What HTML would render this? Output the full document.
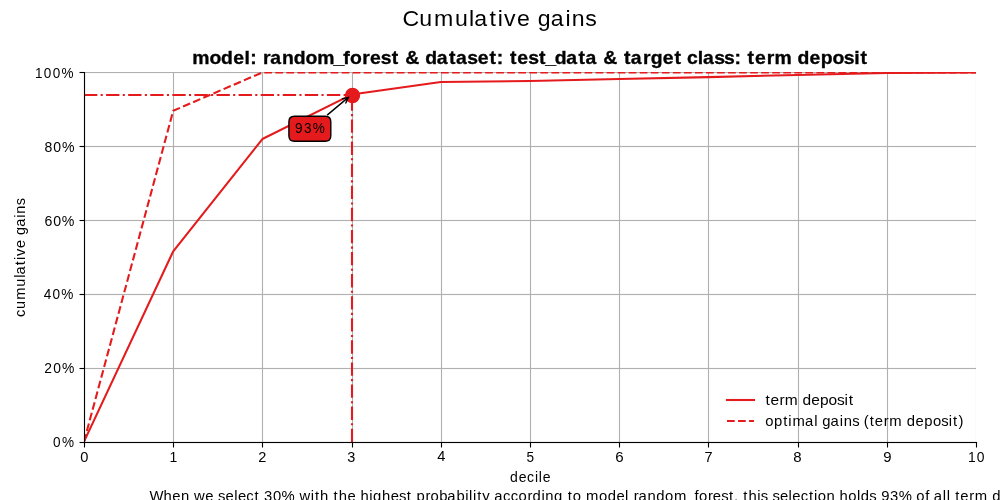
<!DOCTYPE html>
<html><head><meta charset="utf-8"><title>Cumulative gains</title>
<style>
html,body{margin:0;padding:0;background:#fff;}
body{width:1000px;height:500px;overflow:hidden;font-family:"Liberation Sans",sans-serif;}
svg{display:block;}
text{font-family:"Liberation Sans",sans-serif;font-kerning:none;}
#txt{opacity:0.999;}
</style></head><body>
<svg width="1000" height="500" viewBox="0 0 1000 500">
<rect width="1000" height="500" fill="#fff"/>
<defs><clipPath id="ax"><rect x="84" y="72" width="892" height="370"/></clipPath></defs>
<g clip-path="url(#ax)" stroke="#b0b0b0" stroke-width="1.1111"><line x1="84.5" y1="60" x2="84.5" y2="450"/><line x1="173.5" y1="60" x2="173.5" y2="450"/><line x1="262.5" y1="60" x2="262.5" y2="450"/><line x1="352.5" y1="60" x2="352.5" y2="450"/><line x1="441.5" y1="60" x2="441.5" y2="450"/><line x1="530.5" y1="60" x2="530.5" y2="450"/><line x1="619.5" y1="60" x2="619.5" y2="450"/><line x1="708.5" y1="60" x2="708.5" y2="450"/><line x1="798.5" y1="60" x2="798.5" y2="450"/><line x1="887.5" y1="60" x2="887.5" y2="450"/><line x1="976.5" y1="60" x2="976.5" y2="450"/><line x1="70" y1="72.5" x2="990" y2="72.5"/><line x1="70" y1="146.5" x2="990" y2="146.5"/><line x1="70" y1="220.5" x2="990" y2="220.5"/><line x1="70" y1="294.5" x2="990" y2="294.5"/><line x1="70" y1="368.5" x2="990" y2="368.5"/><line x1="70" y1="442.5" x2="990" y2="442.5"/></g>
<g fill="#b0b0b0" fill-opacity="0.063" shape-rendering="crispEdges"><rect x="85" y="73" width="891" height="1"/><rect x="85" y="145" width="891" height="1"/><rect x="85" y="147" width="891" height="1"/><rect x="85" y="219" width="891" height="1"/><rect x="85" y="221" width="891" height="1"/><rect x="85" y="293" width="891" height="1"/><rect x="85" y="295" width="891" height="1"/><rect x="85" y="367" width="891" height="1"/><rect x="85" y="369" width="891" height="1"/></g>
<g clip-path="url(#ax)" fill="none" stroke="#e41a1c" stroke-width="2.0833"><circle cx="352.5" cy="95.5" r="6.9444" fill="#e41a1c" stroke-width="1.3889"/><polyline points="84.000,441.600 173.200,251.351 262.400,139.041 351.600,94.589 440.800,81.962 530.000,81.039 619.200,79.009 708.400,77.163 797.600,74.947 886.800,73.065 976.000,72.400" stroke-linejoin="round" stroke-linecap="square"/><polyline points="84.000,441.600 173.200,110.797 262.400,72.400 351.600,72.400 440.800,72.400 530.000,72.400 619.200,72.400 708.400,72.400 797.600,72.400 886.800,72.400 976.000,72.400" stroke-linejoin="round" stroke-dasharray="7.7083,3.3333"/><line x1="84" y1="95" x2="352" y2="95" stroke-dasharray="13.3333,3.3333,2.0833,3.3333"/><line x1="352" y1="442" x2="352" y2="95" stroke-dasharray="13.3333,3.3333,2.0833,3.3333"/></g>
<g stroke="#000" stroke-width="1.1111"><line x1="84.5" y1="71.94" x2="84.5" y2="443.06"/><line x1="83.94" y1="442.5" x2="977.06" y2="442.5"/><line x1="84.5" y1="442.5" x2="84.5" y2="447.5"/><line x1="173.5" y1="442.5" x2="173.5" y2="447.5"/><line x1="262.5" y1="442.5" x2="262.5" y2="447.5"/><line x1="352.5" y1="442.5" x2="352.5" y2="447.5"/><line x1="441.5" y1="442.5" x2="441.5" y2="447.5"/><line x1="530.5" y1="442.5" x2="530.5" y2="447.5"/><line x1="619.5" y1="442.5" x2="619.5" y2="447.5"/><line x1="708.5" y1="442.5" x2="708.5" y2="447.5"/><line x1="798.5" y1="442.5" x2="798.5" y2="447.5"/><line x1="887.5" y1="442.5" x2="887.5" y2="447.5"/><line x1="976.5" y1="442.5" x2="976.5" y2="447.5"/><line x1="79.5" y1="72.5" x2="84.5" y2="72.5"/><line x1="79.5" y1="146.5" x2="84.5" y2="146.5"/><line x1="79.5" y1="220.5" x2="84.5" y2="220.5"/><line x1="79.5" y1="294.5" x2="84.5" y2="294.5"/><line x1="79.5" y1="368.5" x2="84.5" y2="368.5"/><line x1="79.5" y1="442.5" x2="84.5" y2="442.5"/></g>
<g shape-rendering="crispEdges"><rect x="84" y="441" width="893" height="1" fill="#000" fill-opacity="0.0745"/><rect x="84" y="443" width="893" height="1" fill="#000" fill-opacity="0.055"/></g>
<path d="M 294.456 141.200 L 325.244 141.200 Q 330.800 141.200 330.800 135.644 L 330.800 121.856 Q 330.800 116.300 325.244 116.300 L 294.456 116.300 Q 288.900 116.300 288.900 121.856 L 288.900 135.644 Q 288.900 141.200 294.456 141.200 Z" fill="#e41a1c" stroke="#000" stroke-width="1.3889" stroke-linejoin="miter"/>
<g fill="none" stroke="#000" stroke-width="1.3889" stroke-linecap="round"><path d="M 327.474 114.887 Q 338.475 105.631 348.288 97.375"/><path d="M 342.249 98.826 L 348.288 97.375 L 345.826 103.077"/></g>
<g stroke="#e41a1c" stroke-width="2.0833" fill="none"><line x1="727" y1="400" x2="754" y2="400" stroke-linecap="square"/><line x1="727" y1="421" x2="754" y2="421" stroke-dasharray="7.7083,3.3333"/></g>
<g id="txt" fill="#000" font-family="Liberation Sans, sans-serif"><text id="x0" transform="translate(79.832,461.626) scale(1.05414,1.09141)" font-size="13.889" font-weight="normal" x="0.33">0</text><text id="x1" transform="translate(169.032,461.626) scale(1.00680,1.02783)" font-size="13.889" font-weight="normal" x="0.46">1</text><text id="x2" transform="translate(257.982,461.626) scale(1.04656,1.09098)" font-size="13.889" font-weight="normal" x="0.18">2</text><text id="x3" transform="translate(346.932,461.626) scale(1.04273,1.11323)" font-size="13.889" font-weight="normal" x="0.39">3</text><text id="x4" transform="translate(436.882,460.626) scale(1.05426,1.05866)" font-size="13.889" font-weight="normal" x="0.32">4</text><text id="x5" transform="translate(525.832,461.626) scale(0.97993,1.10147)" font-size="13.889" font-weight="normal" x="0.59">5</text><text id="x6" transform="translate(615.032,461.626) scale(1.09101,1.04817)" font-size="13.889" font-weight="normal" x="0.18">6</text><text id="x7" transform="translate(704.232,461.626) scale(1.04662,1.05962)" font-size="13.889" font-weight="normal" x="0.33">7</text><text id="x8" transform="translate(792.932,461.626) scale(1.08154,0.99699)" font-size="13.889" font-weight="normal" x="0.22">8</text><text id="x9" transform="translate(883.132,461.626) scale(1.07246,1.02783)" font-size="13.889" font-weight="normal" x="0.21">9</text><text id="x10" transform="translate(967.413,461.626) scale(1.00094,1.01766)" font-size="13.889" font-weight="normal" x="0.48 9.38">10</text><text id="decile" transform="translate(509.618,481.623) scale(1.01290,1.03419)" font-size="13.889" font-weight="normal" x="0.40 9.09 17.28 25.05 28.85 32.68">decile</text><text id="y0%" transform="translate(52.494,446.627) scale(0.97585,1.00727)" font-size="13.889" font-weight="normal" x="0.66 9.64">0%</text><text id="y20%" transform="translate(43.908,372.537) scale(1.00076,1.02740)" font-size="13.889" font-weight="normal" x="0.37 9.38 18.08">20%</text><text id="y40%" transform="translate(43.158,298.697) scale(0.98042,1.07986)" font-size="13.889" font-weight="normal" x="0.64 9.65 18.58">40%</text><text id="y60%" transform="translate(43.908,225.607) scale(1.01980,1.05866)" font-size="13.889" font-weight="normal" x="0.47 9.13 17.63">60%</text><text id="y80%" transform="translate(43.908,151.517) scale(1.01341,1.04838)" font-size="13.889" font-weight="normal" x="0.49 9.21 17.78">80%</text><text id="y100%" transform="translate(34.321,77.677) scale(0.97382,1.05919)" font-size="13.889" font-weight="normal" x="0.61 9.75 18.82 27.82">100%</text><text id="ylabel" transform="translate(25.000,316.924) rotate(-90) scale(1.04907,1.05003)" font-size="13.889" font-weight="normal" x="0.01 7.58 16.37 28.87 37.25 40.33 49.38 54.24 58.06 65.69 73.60 78.07 85.91 94.63 98.36 106.46">cumulative gains</text><text id="ann" transform="translate(294.498,132.728) scale(0.97804,1.02740)" font-size="13.889" font-weight="normal" x="0.61 9.70 18.64">93%</text><text id="title" transform="translate(192.296,63.567) scale(1.16360,1.10572)" font-size="16.667" font-weight="bold" stroke="#000" stroke-width="0.3" x="0.05 14.75 24.73 35.16 44.88 49.73 55.37 60.80 67.07 77.10 87.25 97.37 107.42 121.26 129.84 135.52 145.98 152.74 162.02 171.42 177.69 182.92 195.16 200.11 210.05 220.65 226.56 236.29 245.25 255.40 261.76 267.40 272.96 279.37 288.65 298.05 303.27 311.44 321.38 331.98 337.89 347.91 353.15 365.39 370.95 376.87 387.33 393.92 404.35 414.50 420.76 425.11 434.39 438.80 448.53 457.05 465.96 471.60 477.16 483.57 493.59 500.26 515.13 520.08 530.52 540.19 550.17 559.89 568.85 574.19">model: random_forest &amp; dataset: test_data &amp; target class: term deposit</text><text id="leg1" transform="translate(764.975,405.325) scale(1.11811,1.00407)" font-size="13.889" font-weight="normal" x="0.47 4.86 12.97 17.70 29.50 33.47 41.32 49.13 56.80 64.32 71.12 74.85">term deposit</text><text id="leg2" transform="translate(765.225,425.712) scale(1.06822,1.09443)" font-size="13.889" font-weight="normal" x="0.12 8.30 16.79 21.58 25.50 37.21 45.81 49.16 53.49 61.18 69.79 73.42 81.38 88.14 92.15 97.93 102.61 111.05 116.15 128.23 132.55 140.78 148.96 156.99 164.83 171.87 175.79 180.88">optimal gains (term deposit)</text><text id="suptitle" transform="translate(403.273,25.635) scale(1.03961,1.00407)" font-size="22.222" font-weight="normal" x="-0.68 15.47 29.69 49.84 63.34 68.35 82.93 90.77 96.97 109.29 122.00 129.27 141.93 155.97 162.04 175.11">Cumulative gains</text><text id="bottom" transform="translate(149.500,500.500) scale(1.06827,1.07528)" font-size="13.889" font-weight="normal" x="-0.13 13.12 21.26 29.38 37.33 41.76 52.26 60.10 64.24 71.17 79.27 82.78 90.56 98.35 102.86 107.28 115.54 123.54 135.89 140.32 150.93 154.85 159.63 167.61 172.32 177.10 185.24 193.08 197.47 205.72 209.25 217.58 225.72 233.56 240.91 245.42 249.90 258.41 262.99 271.17 278.70 287.39 295.57 299.17 302.79 306.72 311.60 318.93 322.68 330.97 338.12 345.44 353.88 358.58 366.92 370.54 378.69 386.75 391.47 396.10 403.94 408.65 420.85 428.88 437.10 445.20 448.55 453.29 457.66 466.28 474.42 482.61 491.03 502.52 510.13 514.30 522.74 527.36 535.21 542.56 547.07 551.20 555.92 560.70 568.94 572.29 579.06 583.20 590.13 598.23 601.74 609.52 617.31 622.09 625.55 633.67 641.63 646.03 654.12 662.22 665.76 673.83 680.59 684.96 693.29 701.27 713.62 717.87 726.23 730.29 734.05 742.65 746.26 749.61 754.33 759.01 767.45 772.54 784.62 788.94 797.17 805.35 813.38 821.22 828.26 832.18 836.70 840.78 847.61 855.95 862.88 870.73 877.49 881.89 885.52 893.48 898.19 902.87 910.71 918.06 921.99 929.27 936.96 945.88 950.02 958.49">When we select 30% with the highest probability according to model random_forest, this selection holds 93% of all term deposit cases in test_data.</text></g>
</svg>
</body></html>
